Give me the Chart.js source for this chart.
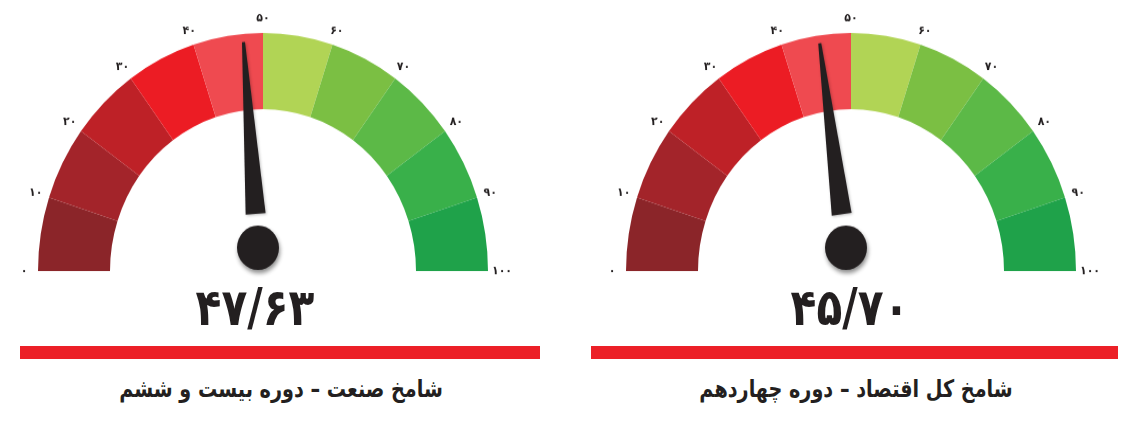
<!DOCTYPE html>
<html lang="fa">
<head>
<meta charset="utf-8">
<script src="https://cdn.jsdelivr.net/npm/chart.js@4.4.1/dist/chart.umd.min.js"></script>
<style>
  html, body { margin:0; padding:0; background:#fff; }
  body { width:1132px; height:422px; position:relative; overflow:hidden; font-family:"DejaVu Sans", sans-serif; }
  canvas.g { position:absolute; top:0; transform:scaleY(1.058); transform-origin:50% 271px; }
  .num { position:absolute; top:282px; width:400px; text-align:center; font:bold 51px "DejaVu Sans", sans-serif; color:#231f20; line-height:1; direction:ltr; transform:scaleX(0.83); }
  .bar { position:absolute; top:346px; height:13px; background:#ec2027; }
  .ttl { position:absolute; top:375px; width:500px; text-align:center; font:bold 24px "DejaVu Sans", sans-serif; color:#231f20; direction:rtl; line-height:1.2; transform:scaleX(0.8); }
</style>
</head>
<body>
<canvas id="g1" class="g" width="520" height="290" style="left:3px"></canvas>
<canvas id="g2" class="g" width="520" height="290" style="left:591px"></canvas>
<div id="n1" class="num" style="left:55px"></div>
<div id="n2" class="num" style="left:650px"></div>
<div class="bar" style="left:20px;width:520px"></div>
<div class="bar" style="left:591px;width:527px"></div>
<div id="t1" class="ttl" style="left:31px"></div>
<div id="t2" class="ttl" style="left:606px"></div>
<script>
// ---- data ----
const bandEdges = [0, 10, 20, 30, 40, 50, 60, 70, 80, 90, 100];
const tickLabels = ['۰', '۱۰', '۲۰', '۳۰', '۴۰', '۵۰', '۶۰', '۷۰', '۸۰', '۹۰', '۱۰۰'];
const bandColors = ['#8b2529', '#a3242a', '#be2127', '#ec1c24', '#ef4a50',
                    '#b1d455', '#7bbf43', '#5cb947', '#39b04a', '#1fa24a'];
const industryValue = 47.63;
const economyValue = 45.70;
const industryTitle = 'شامخ صنعت – دوره بیست و ششم';
const economyTitle = 'شامخ کل اقتصاد – دوره چهاردهم';

const bandSizes = bandEdges.slice(1).map((e, i) => e - bandEdges[i]);
const faDigits = '۰۱۲۳۴۵۶۷۸۹';
function toFa(v) {
  return v.toFixed(2).replace('.', '/').replace(/[0-9]/g, d => faDigits[+d]);
}

const gaugePlugin = {
  id: 'gauge',
  afterDatasetsDraw(chart, args, opts) {
    const ctx = chart.ctx;
    const arcs = chart.getDatasetMeta(0).data;
    const first = arcs[0], last = arcs[arcs.length - 1];
    const cx = first.x, cy = first.y, R = first.outerRadius;
    const a0 = first.startAngle, a1 = last.endAngle;
    const min = bandEdges[0], max = bandEdges[bandEdges.length - 1];
    ctx.save();
    // tick labels
    ctx.fillStyle = '#231f20';
    ctx.font = 'bold 11px "DejaVu Sans", sans-serif';
    ctx.textAlign = 'center';
    ctx.textBaseline = 'middle';
    bandEdges.forEach((e, i) => {
      const a = a0 + (e - min) / (max - min) * (a1 - a0);
      const r = R + 14;
      ctx.fillText(tickLabels[i], cx + r * Math.cos(a), cy + r * Math.sin(a));
    });
    // needle
    const v = opts.value;
    const a = a0 + (v - min) / (max - min) * (a1 - a0);
    const px = cx - 5, py = cy - 22;
    const ux = Math.cos(a), uy = Math.sin(a);
    const nx = -uy, ny = ux;
    const baseD = 32, tipD = 195, baseW = 10, tipW = 1.5;
    ctx.fillStyle = '#231f20';
    ctx.shadowColor = 'rgba(0,0,0,0.25)';
    ctx.shadowBlur = 3;
    ctx.shadowOffsetX = 1;
    ctx.shadowOffsetY = 1;
    ctx.beginPath();
    ctx.moveTo(px + ux * baseD + nx * baseW, py + uy * baseD + ny * baseW);
    ctx.lineTo(px + ux * tipD + nx * tipW, py + uy * tipD + ny * tipW);
    ctx.lineTo(px + ux * tipD - nx * tipW, py + uy * tipD - ny * tipW);
    ctx.lineTo(px + ux * baseD - nx * baseW, py + uy * baseD - ny * baseW);
    ctx.closePath();
    ctx.fill();
    // hub
    ctx.shadowColor = 'rgba(0,0,0,0.45)';
    ctx.shadowBlur = 4;
    ctx.shadowOffsetX = 1;
    ctx.shadowOffsetY = 3;
    ctx.beginPath();
    ctx.arc(px, py, 21, 0, Math.PI * 2);
    ctx.fill();
    ctx.restore();
  }
};

function makeGauge(id, value) {
  return new Chart(document.getElementById(id), {
    type: 'doughnut',
    data: {
      labels: tickLabels.slice(1),
      datasets: [{ data: bandSizes, backgroundColor: bandColors, borderWidth: 0, hoverOffset: 0 }]
    },
    options: {
      responsive: false,
      animation: false,
      devicePixelRatio: 1,
      rotation: -90,
      circumference: 180,
      cutout: '68%',
      layout: { padding: { left: 35, right: 35, top: 46, bottom: 19 } },
      plugins: { legend: { display: false }, tooltip: { enabled: false }, gauge: { value: value } },
      events: []
    },
    plugins: [gaugePlugin]
  });
}
makeGauge('g1', industryValue);
makeGauge('g2', economyValue);
document.getElementById('n1').textContent = toFa(industryValue);
document.getElementById('n2').textContent = toFa(economyValue);
document.getElementById('t1').textContent = industryTitle;
document.getElementById('t2').textContent = economyTitle;
</script>
</body>
</html>
